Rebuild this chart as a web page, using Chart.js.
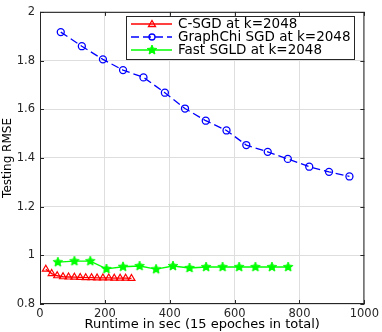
<!DOCTYPE html>
<html>
<head>
<meta charset="utf-8">
<script src="https://cdn.jsdelivr.net/npm/chart.js@4.4.1/dist/chart.umd.min.js"></script>
<style>
  body { margin: 0; background: #fff; }
  canvas { display: block; }
</style>
</head>
<body>
<canvas id="rmseChart" width="382" height="332"></canvas>
<script>
// values
const csgdTime = [18, 36, 53, 71, 88, 106, 124, 141, 159, 176, 194, 212, 229, 247, 264, 282];
const csgdRmse = [0.943, 0.925, 0.916, 0.912, 0.911, 0.910, 0.909, 0.908, 0.908, 0.907, 0.907, 0.907, 0.906, 0.906, 0.906, 0.905];
const chiTime = [64, 129, 194, 256, 319, 385, 447, 511, 575, 636, 702, 764, 830, 891, 954];
const chiRmse = [1.917, 1.859, 1.805, 1.761, 1.731, 1.668, 1.603, 1.553, 1.513, 1.453, 1.425, 1.396, 1.364, 1.343, 1.324];
const sgldTime = [55, 106, 155, 205, 256, 307, 358, 410, 461, 512, 563, 614, 664, 715, 765];
const sgldRmse = [0.972, 0.976, 0.976, 0.944, 0.953, 0.956, 0.943, 0.956, 0.948, 0.952, 0.952, 0.952, 0.952, 0.952, 0.952];
const xTicks = [0, 200, 400, 600, 800, 1000];
const yTicks = [0.8, 1, 1.2, 1.4, 1.6, 1.8, 2];
const seriesNames = ['C-SGD at k=2048', 'GraphChi SGD at k=2048', 'Fast SGLD at k=2048'];

const FONT = 'DejaVu Sans';
Chart.defaults.font.family = FONT;
Chart.defaults.color = '#262626';

// filled five-point star, like matlab's 'p' marker
function starMarker(r, color) {
  const size = Math.ceil(r * 2 + 4);
  const c = document.createElement('canvas');
  c.width = size; c.height = size;
  const g = c.getContext('2d');
  g.beginPath();
  for (let i = 0; i < 10; i++) {
    const a = -Math.PI / 2 + i * Math.PI / 5;
    const rr = i % 2 ? r * 0.45 : r;
    g.lineTo(size / 2 + rr * Math.cos(a), size / 2 + rr * Math.sin(a));
  }
  g.closePath();
  g.fillStyle = color;
  g.fill();
  g.strokeStyle = color;
  g.lineWidth = 1;
  g.stroke();
  return c;
}
const greenStar = starMarker(5, '#00ff00');

const pairs = (xs, ys) => xs.map((x, i) => ({ x: x, y: ys[i] }));

// matlab style box + inward ticks + legend inside the axes
const frame = {
  id: 'frame',
  afterDraw(chart) {
    const { ctx, chartArea: a, scales: { x, y } } = chart;
    ctx.save();
    ctx.strokeStyle = '#262626';
    ctx.lineWidth = 1;
    ctx.strokeRect(a.left + 0.5, a.top + 0.5, a.right - a.left - 1, a.bottom - a.top - 1);
    ctx.beginPath();
    xTicks.forEach(v => {
      const px = Math.round(x.getPixelForValue(v)) + 0.5;
      ctx.moveTo(px, a.bottom); ctx.lineTo(px, a.bottom - 4);
      ctx.moveTo(px, a.top); ctx.lineTo(px, a.top + 4);
    });
    yTicks.forEach(v => {
      const py = Math.round(y.getPixelForValue(v)) + 0.5;
      ctx.moveTo(a.left, py); ctx.lineTo(a.left + 4, py);
      ctx.moveTo(a.right, py); ctx.lineTo(a.right - 4, py);
    });
    ctx.stroke();

    // legend
    const lx = 126, ly = 16, lw = 228, lh = 43;
    ctx.fillStyle = '#fff';
    ctx.fillRect(lx, ly, lw, lh);
    ctx.strokeStyle = '#262626';
    ctx.strokeRect(lx + 0.5, ly + 0.5, lw, lh);
    ctx.font = '13.5px "' + FONT + '"';
    ctx.textBaseline = 'middle';
    ctx.textAlign = 'left';
    chart.data.datasets.forEach((ds, i) => {
      const cy = ly + 8 + i * 13;
      ctx.strokeStyle = ds.borderColor;
      ctx.lineWidth = 1.3;
      ctx.setLineDash(ds.borderDash || []);
      ctx.beginPath();
      ctx.moveTo(lx + 5, cy); ctx.lineTo(lx + 46, cy);
      ctx.stroke();
      ctx.setLineDash([]);
      const mx = lx + 26;
      if (ds.pointStyle === 'triangle') {
        ctx.beginPath();
        ctx.moveTo(mx, cy - 3.5); ctx.lineTo(mx + 3.5, cy + 2.5); ctx.lineTo(mx - 3.5, cy + 2.5);
        ctx.closePath(); ctx.stroke();
      } else if (ds.pointStyle === 'circle') {
        ctx.beginPath(); ctx.arc(mx, cy, 3, 0, Math.PI * 2); ctx.stroke();
      } else {
        ctx.drawImage(ds.pointStyle, mx - ds.pointStyle.width / 2, cy - ds.pointStyle.height / 2);
      }
      ctx.fillStyle = '#000';
      ctx.fillText(ds.label, lx + 52, cy + 0.5);
    });
    ctx.restore();
  }
};

new Chart(document.getElementById('rmseChart'), {
  type: 'line',
  data: {
    datasets: [{
      label: seriesNames[0],
      data: pairs(csgdTime, csgdRmse),
      borderColor: '#ff0000',
      backgroundColor: 'rgba(0,0,0,0)',
      borderWidth: 1.3,
      pointStyle: 'triangle',
      pointRadius: 4,
      pointBorderWidth: 1.2,
      pointBorderColor: '#ff0000'
    }, {
      label: seriesNames[1],
      data: pairs(chiTime, chiRmse),
      borderColor: '#0000ff',
      backgroundColor: 'rgba(0,0,0,0)',
      borderWidth: 1.3,
      borderDash: [8, 4],
      pointStyle: 'circle',
      pointRadius: 3.5,
      pointBorderWidth: 1.3,
      pointBorderColor: '#0000ff'
    }, {
      label: seriesNames[2],
      data: pairs(sgldTime, sgldRmse),
      borderColor: '#00ff00',
      backgroundColor: '#00ff00',
      borderWidth: 1.3,
      pointStyle: greenStar
    }]
  },
  options: {
    responsive: false,
    animation: false,
    layout: { padding: { top: 5, right: 14, left: 0, bottom: 0 } },
    plugins: { legend: { display: false }, tooltip: { enabled: false } },
    scales: {
      x: {
        type: 'linear', min: 0, max: 1000,
        afterBuildTicks: s => { s.ticks = xTicks.map(v => ({ value: v })); },
        afterFit: s => { s.height = 28; },
        grid: { color: '#dedede', drawTicks: false },
        border: { display: false },
        ticks: { font: { size: 11.5 }, padding: 3, color: '#262626', callback: v => String(v) },
        title: { display: true, text: 'Runtime in sec (15 epoches in total)', font: { size: 13, lineHeight: 1 }, padding: { top: 0, bottom: 1 }, color: '#000' }
      },
      y: {
        type: 'linear', min: 0.8, max: 2,
        afterBuildTicks: s => { s.ticks = yTicks.map(v => ({ value: v })); },
        afterFit: s => { s.width = 40; },
        grid: { color: '#dedede', drawTicks: false },
        border: { display: false },
        ticks: { font: { size: 11.5 }, padding: 5, color: '#262626', callback: v => String(Math.round(v * 10) / 10) },
        title: { display: true, text: 'Testing RMSE', font: { size: 12, lineHeight: 1 }, padding: { top: 2, bottom: 0 }, color: '#000' }
      }
    }
  },
  plugins: [frame]
});
</script>
</body>
</html>
